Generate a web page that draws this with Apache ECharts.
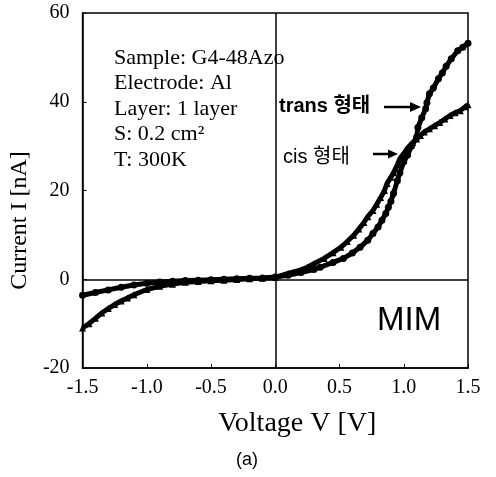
<!DOCTYPE html>
<html>
<head>
<meta charset="utf-8">
<script src="https://cdn.jsdelivr.net/npm/echarts@6/dist/echarts.min.js"></script>
<style>
  html, body { margin: 0; padding: 0; background: #fff; }
  #chart { width: 496px; height: 477px; }
</style>
</head>
<body>
<div id="chart"></div>
<script>
// trans 형태 (circles)
const transV = [-1.5, -1.4, -1.3, -1.2, -1.1, -1.0, -0.9, -0.8, -0.7, -0.6, -0.5, -0.4, -0.3, -0.2, -0.1, 0,
  0.1, 0.2, 0.3, 0.35, 0.45, 0.53, 0.6, 0.66, 0.72, 0.76, 0.8, 0.83, 0.86, 0.88, 0.9, 0.92, 0.95, 0.97,
  1.0, 1.03, 1.06, 1.1, 1.11, 1.14, 1.17, 1.18, 1.2, 1.23, 1.27, 1.3, 1.33, 1.37, 1.42, 1.46, 1.5];
const transI = [-3.6, -3.0, -2.4, -1.8, -1.3, -0.9, -0.6, -0.45, -0.3, -0.2, -0.1, 0, 0.1, 0.2, 0.3, 0.5,
  0.9, 1.5, 2.2, 2.7, 3.8, 4.7, 5.9, 7.2, 8.8, 10.3, 11.8, 13.3, 14.8, 16.2, 17.6, 19.3, 22.2, 24,
  26.5, 28, 30, 32, 34.2, 36.4, 38.4, 39.8, 41.8, 43.1, 45.2, 46.5, 48, 49.7, 51.5, 52.3, 53.2];

// cis 형태 (triangles)
const cisV = [-1.5, -1.45, -1.4, -1.35, -1.3, -1.25, -1.2, -1.15, -1.1, -1.0, -0.9, -0.8, -0.7, -0.6, -0.5,
  -0.4, -0.3, -0.2, -0.1, 0, 0.1, 0.2, 0.25, 0.3, 0.38, 0.45, 0.51, 0.56, 0.61, 0.65, 0.69, 0.72, 0.76,
  0.79, 0.82, 0.85, 0.87, 0.9, 0.92, 0.95, 0.97, 1.0, 1.03, 1.07, 1.1, 1.13, 1.16, 1.2, 1.24, 1.28,
  1.32, 1.36, 1.4, 1.44, 1.48, 1.5];
const cisI = [-11, -10, -8.8, -7.6, -6.6, -5.7, -4.9, -4.2, -3.5, -2.3, -1.6, -1.1, -0.7, -0.5, -0.35,
  -0.2, -0.05, 0.1, 0.2, 0.4, 1.3, 2.1, 2.7, 3.5, 4.7, 6.0, 7.2, 8.5, 9.9, 11.3, 12.8, 14.1, 15.5,
  16.9, 18.4, 20, 21.6, 23, 24, 25.8, 27.2, 28.3, 29.6, 30.8, 31.6, 32.4, 33.2, 33.9, 34.6, 35.3,
  36.1, 36.9, 37.5, 38, 38.9, 39.3];

const infoLines = ['Sample: G4-48Azo', 'Electrode: Al', 'Layer: 1 layer', 'S: 0.2 cm²', 'T: 300K'];

const serif = '"Liberation Serif", "DejaVu Serif", serif';
const sans = '"Liberation Sans", "Noto Sans CJK KR", sans-serif';

const chart = echarts.init(document.getElementById('chart'));

const zip = (xs, ys) => xs.map((x, i) => [x, ys[i]]);

const graphics = infoLines.map((t, i) => ({
  type: 'text', left: 114, top: 47 + i * 25.5,
  style: { text: t, font: '22px ' + serif, fill: '#000' }
}));
graphics.push(
  { type: 'text', left: 279, top: 96, style: { text: 'trans 형태', font: 'bold 20px "Liberation Sans", "Noto Sans CJK KR"', fill: '#000' } },
  { type: 'line', shape: { x1: 384, y1: 107, x2: 412, y2: 107 }, style: { stroke: '#000', lineWidth: 2.5 } },
  { type: 'polygon', shape: { points: [[421, 107], [410, 102], [410, 112]] }, style: { fill: '#000' } },
  { type: 'text', left: 283, top: 147, style: { text: 'cis 형태', font: '20px "Liberation Sans", "Noto Sans CJK KR"', fill: '#000' } },
  { type: 'line', shape: { x1: 373, y1: 154, x2: 390, y2: 154 }, style: { stroke: '#000', lineWidth: 2.5 } },
  { type: 'polygon', shape: { points: [[398, 154], [388, 149.5], [388, 158.5]] }, style: { fill: '#000' } },
  { type: 'text', left: 377, top: 304, style: { text: 'MIM', font: '33px ' + sans, fill: '#000' } },
  { type: 'text', left: 236, top: 451, style: { text: '(a)', font: '18px ' + sans, fill: '#000' } }
);

chart.setOption({
  backgroundColor: '#fff',
  animation: false,
  grid: {
    left: 80, right: 28, top: 13, bottom: 109,
    show: true, borderColor: '#000', borderWidth: 1.5
  },
  xAxis: {
    type: 'value', min: -1.5, max: 1.5, interval: 0.5,
    name: 'Voltage V [V]', nameLocation: 'middle', nameGap: 42,
    nameTextStyle: { fontFamily: serif, fontSize: 28, color: '#000', padding: [0, 0, 0, 44] },
    axisLine: { onZero: false, lineStyle: { color: '#000', width: 1.5 } },
    axisTick: { inside: true, length: 4, lineStyle: { color: '#000' } },
    axisLabel: { fontFamily: serif, fontSize: 20, color: '#000', margin: 10, formatter: v => v.toFixed(1) },
    splitLine: { show: false }
  },
  yAxis: {
    type: 'value', min: -20, max: 60, interval: 20,
    name: 'Current I [nA]', nameLocation: 'middle', nameGap: 44,
    nameTextStyle: { fontFamily: serif, fontSize: 24, color: '#000', padding: [0, 60, 0, 0] },
    axisLine: { onZero: false, lineStyle: { color: '#000', width: 1.5 } },
    axisTick: { inside: true, length: 4, lineStyle: { color: '#000' } },
    axisLabel: { fontFamily: serif, fontSize: 20, color: '#000', margin: 13 },
    splitLine: { show: false }
  },
  series: [
    {
      name: 'trans', type: 'line', data: zip(transV, transI),
      symbol: 'circle', symbolSize: 7, showAllSymbol: true,
      itemStyle: { color: '#000' }, lineStyle: { color: '#000', width: 5 },
      markLine: {
        silent: true, symbol: 'none', label: { show: false },
        lineStyle: { color: '#000', width: 1.5, type: 'solid' },
        data: [{ xAxis: 0 }, { yAxis: 0 }]
      }
    },
    {
      name: 'cis', type: 'line', data: zip(cisV, cisI),
      symbol: 'triangle', symbolSize: 7, showAllSymbol: true,
      itemStyle: { color: '#000' }, lineStyle: { color: '#000', width: 5 }
    }
  ],
  graphic: graphics
});
</script>
</body>
</html>
